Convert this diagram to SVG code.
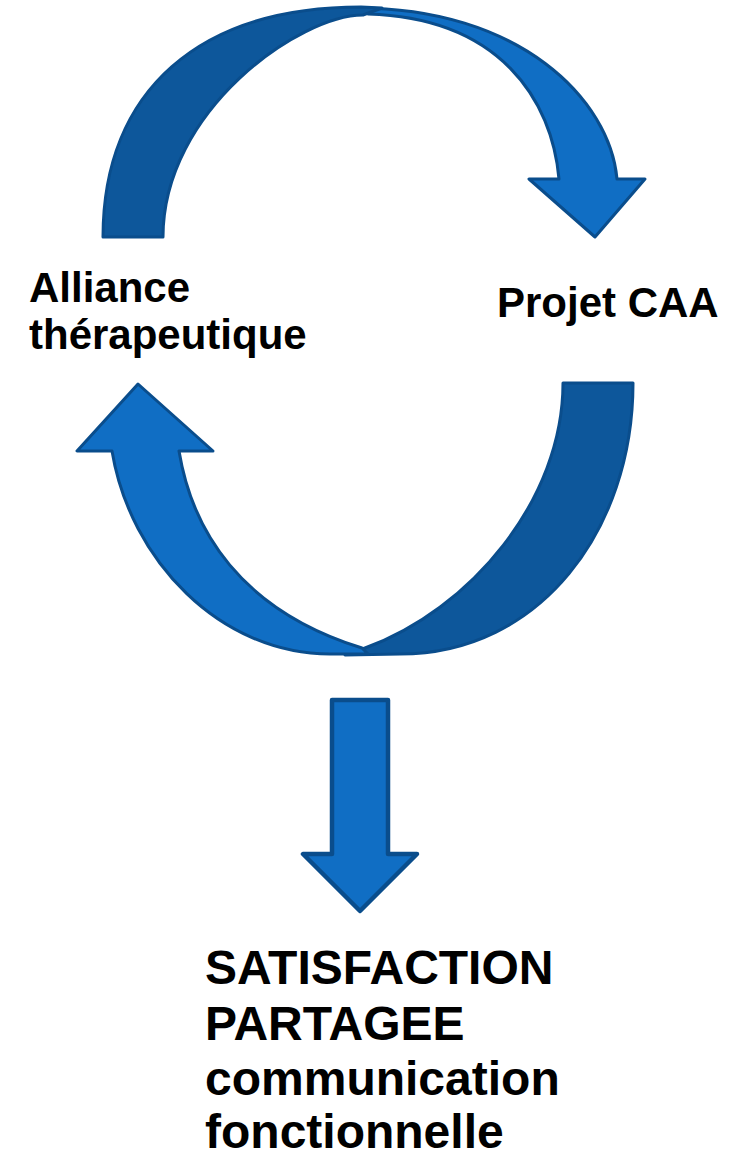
<svg xmlns="http://www.w3.org/2000/svg" width="743" height="1159" viewBox="0 0 743 1159">
<style>
.dark{fill:#0d579b;stroke:#0a4d8c;stroke-width:3;stroke-linejoin:round}
.light{fill:#106ec4;stroke:#0a4d8c;stroke-width:3;stroke-linejoin:round}
.lbl{font-family:"Liberation Sans",Arial,sans-serif;font-weight:bold;fill:#000}
</style>
<rect width="743" height="1159" fill="#fff"/>
<g id="connectors">
<g id="top-arrow">
<path class="light" d="M355,8 C520,7 610,100 617,179 L645,179 L595,237 L529,179 L559,179 C552,100 500,18 368,14 Z"/>
<path class="dark" d="M103,237 C103,90 200,7 361,7 L382,8 L363,15 C300,15 163,110 163,237 Z"/>
</g>
<g id="bottom-arrow">
<path class="dark" d="M563,383 L633,383 C633,530 540,654 400,654 L345,655 L365,648 C470,610 563,500 563,383 Z"/>
<path class="light" d="M112,451 C130,560 220,654 330,654 L368,654 L362,648 C240,610 192,530 179,451 L213,451 L138,384 L77,451 Z"/>
</g>
<g id="down-arrow">
<path class="light" style="stroke-width:4.5" d="M332,700 L388,700 L388,854 L417,854 L360,911 L303,854 L332,854 Z"/>
</g>
</g>
<g id="node-alliance">
<text class="lbl" x="29" y="302" font-size="42">Alliance</text>
<text class="lbl" x="29" y="349" font-size="42">thérapeutique</text>
</g>
<g id="node-projet">
<text class="lbl" x="497" y="317" font-size="42">Projet CAA</text>
</g>
<g id="node-satisfaction">
<text class="lbl" x="205" y="984" font-size="48">SATISFACTION</text>
<text class="lbl" x="205" y="1040" font-size="48">PARTAGEE</text>
<text class="lbl" x="205" y="1095" font-size="48">communication</text>
<text class="lbl" x="205" y="1148" font-size="48">fonctionnelle</text>
</g>
</svg>
